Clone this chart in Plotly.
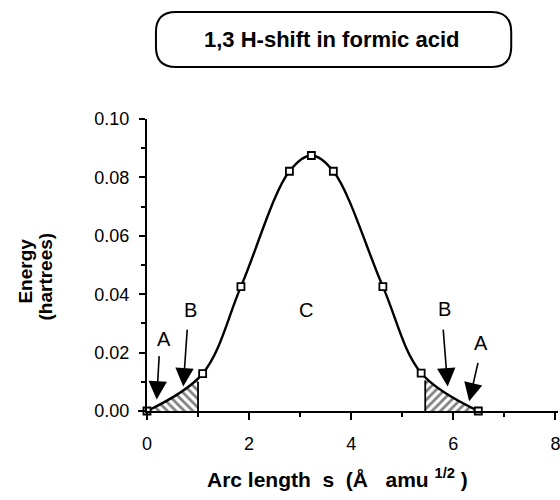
import plotly.graph_objects as go

# Data
s_vals = [0.0, 1.09, 1.84, 2.79, 3.22, 3.65, 4.62, 5.37, 6.49]
energy = [0.0, 0.0128, 0.0426, 0.0821, 0.0875, 0.0821, 0.0426, 0.0130, 0.0]

# shaded (hatched) regions: [start, boundary] and height of boundary line
left_hatch = [0.0, 1.0]
right_hatch = [5.45, 6.49]
boundary_height = [0.0100, 0.0105]

# labels
region_labels = ["A", "B", "C", "B", "A"]
label_s = [0.33, 0.85, 3.11, 5.82, 6.55]
label_e = [0.0247, 0.0345, 0.0345, 0.0350, 0.0232]
arrow_tail_s = [0.24, 0.79, 5.80, 6.49]
arrow_tail_e = [0.0193, 0.0284, 0.0284, 0.0170]
arrow_tip_s = [0.19, 0.71, 5.89, 6.31]
arrow_tip_e = [0.0039, 0.0084, 0.0084, 0.0033]

FONT = "Liberation Sans"
SMOOTH = 1.0

# plot geometry (pixels)
W, H = 560, 500
L, R, T, B = 147, 0, 119, 89
PW, PH = W - L - R, H - T - B
px_per_unit = 51.3

fig = go.Figure()

# hatched regions (spline through end points, masked beyond boundary)
fig.add_trace(go.Scatter(
    x=s_vals[:3], y=energy[:3], mode="lines",
    line=dict(width=0, shape="spline", smoothing=SMOOTH),
    fill="tozeroy", fillcolor="white",
    fillpattern=dict(shape="\\", fgcolor="black", bgcolor="white", size=6, solidity=0.45),
    hoverinfo="skip", showlegend=False))
fig.add_trace(go.Scatter(
    x=s_vals[-3:], y=energy[-3:], mode="lines",
    line=dict(width=0, shape="spline", smoothing=SMOOTH),
    fill="tozeroy", fillcolor="white",
    fillpattern=dict(shape="/", fgcolor="black", bgcolor="white", size=6, solidity=0.45),
    hoverinfo="skip", showlegend=False))
# white masks to trim hatch at the boundaries
fig.add_trace(go.Scatter(
    x=[left_hatch[1], s_vals[2] + 0.1, s_vals[2] + 0.1, left_hatch[1], left_hatch[1]],
    y=[0, 0, 0.05, 0.05, 0], mode="lines", line=dict(width=0),
    fill="toself", fillcolor="white", hoverinfo="skip", showlegend=False))
fig.add_trace(go.Scatter(
    x=[s_vals[-3] - 0.1, right_hatch[0], right_hatch[0], s_vals[-3] - 0.1, s_vals[-3] - 0.1],
    y=[0, 0, 0.05, 0.05, 0], mode="lines", line=dict(width=0),
    fill="toself", fillcolor="white", hoverinfo="skip", showlegend=False))
# boundary lines
fig.add_trace(go.Scatter(
    x=[left_hatch[1], left_hatch[1], None, right_hatch[0], right_hatch[0]],
    y=[0, boundary_height[0], None, 0, boundary_height[1]],
    mode="lines", line=dict(color="black", width=1.8),
    hoverinfo="skip", showlegend=False))

# main curve
fig.add_trace(go.Scatter(
    x=s_vals, y=energy, mode="lines+markers",
    line=dict(color="black", width=2.4, shape="spline", smoothing=SMOOTH),
    marker=dict(symbol="square", size=7, color="white",
                line=dict(color="black", width=1.8)),
    cliponaxis=False, hoverinfo="skip", showlegend=False))

# arrows
for ts, te, hs, he in zip(arrow_tail_s, arrow_tail_e, arrow_tip_s, arrow_tip_e):
    fig.add_annotation(x=hs, y=he, ax=ts, ay=te, xref="x", yref="y",
                       axref="x", ayref="y", text="", showarrow=True,
                       arrowhead=2, arrowsize=2.3, arrowwidth=1.6,
                       arrowcolor="black")
for t, xs, ye in zip(region_labels, label_s, label_e):
    fig.add_annotation(x=xs, y=ye, text=t, showarrow=False,
                       xanchor="center", yanchor="middle",
                       font=dict(family=FONT, size=20, color="black"))


def px(xp):
    return (xp - L) / PW


def py(yp):
    return (H - B - yp) / PH


# axis titles
fig.add_annotation(xref="paper", yref="paper", x=px(24), y=py(271),
                   xanchor="center", yanchor="middle",
                   text="<b>Energy</b>", textangle=-90, showarrow=False,
                   font=dict(family=FONT, size=19, color="black"))
fig.add_annotation(xref="paper", yref="paper", x=px(45), y=py(276),
                   xanchor="center", yanchor="middle",
                   text="<b>(hartrees)</b>", textangle=-90, showarrow=False,
                   font=dict(family=FONT, size=19, color="black"))
fig.add_annotation(xref="paper", yref="paper", x=px(338), y=py(478),
                   xanchor="center", yanchor="middle",
                   text="<b>Arc length\u00a0 s\u00a0 (Å\u00a0\u00a0 amu <sup>1/2</sup> )</b>",
                   showarrow=False, font=dict(family=FONT, size=21, color="black"))

# title box (rounded rectangle)
x0, x1, y0, y1, r = 156, 513, 12, 67, 20
path = (f"M {px(x0 + r)} {py(y0)} L {px(x1 - r)} {py(y0)} "
        f"Q {px(x1)} {py(y0)} {px(x1)} {py(y0 + r)} L {px(x1)} {py(y1 - r)} "
        f"Q {px(x1)} {py(y1)} {px(x1 - r)} {py(y1)} L {px(x0 + r)} {py(y1)} "
        f"Q {px(x0)} {py(y1)} {px(x0)} {py(y1 - r)} L {px(x0)} {py(y0 + r)} "
        f"Q {px(x0)} {py(y0)} {px(x0 + r)} {py(y0)} Z")
fig.add_shape(type="path", path=path, xref="paper", yref="paper",
              line=dict(color="black", width=2))
fig.add_annotation(xref="paper", yref="paper", x=px(333), y=py(40),
                   xanchor="center", yanchor="middle",
                   text="<b>1,3 H-shift in formic acid</b>", showarrow=False,
                   font=dict(family=FONT, size=22, color="black"))

# x-axis line extension to the left of zero
fig.add_shape(type="line", xref="paper", yref="paper", x0=px(138), x1=0, y0=0, y1=0,
              line=dict(color="black", width=2))

fig.update_xaxes(range=[0, PW / px_per_unit], tickmode="linear", tick0=0, dtick=2,
                 showline=True, linecolor="black", linewidth=2,
                 ticks="outside", ticklen=7, tickwidth=2, tickcolor="black",
                 minor=dict(tickmode="linear", tick0=0, dtick=1, ticks="outside",
                            ticklen=4, tickwidth=1.5, tickcolor="black"),
                 showgrid=False, zeroline=False, ticklabeloverflow="allow",
                 tickfont=dict(family=FONT, size=18, color="black"),
                 ticklabelstandoff=8)
fig.update_yaxes(range=[0, 0.10], tickmode="linear", tick0=0, dtick=0.02,
                 tickformat=".2f",
                 showline=True, linecolor="black", linewidth=2,
                 ticks="outside", ticklen=6, tickwidth=2, tickcolor="black",
                 minor=dict(tickmode="linear", tick0=0, dtick=0.01, ticks="outside",
                            ticklen=4, tickwidth=1.5, tickcolor="black"),
                 showgrid=False, zeroline=False,
                 tickfont=dict(family=FONT, size=18, color="black"),
                 ticklabelstandoff=6)

fig.update_layout(width=W, height=H, margin=dict(l=L, r=R, t=T, b=B),
                  plot_bgcolor="white", paper_bgcolor="white",
                  showlegend=False)

fig.write_html("out.html")
